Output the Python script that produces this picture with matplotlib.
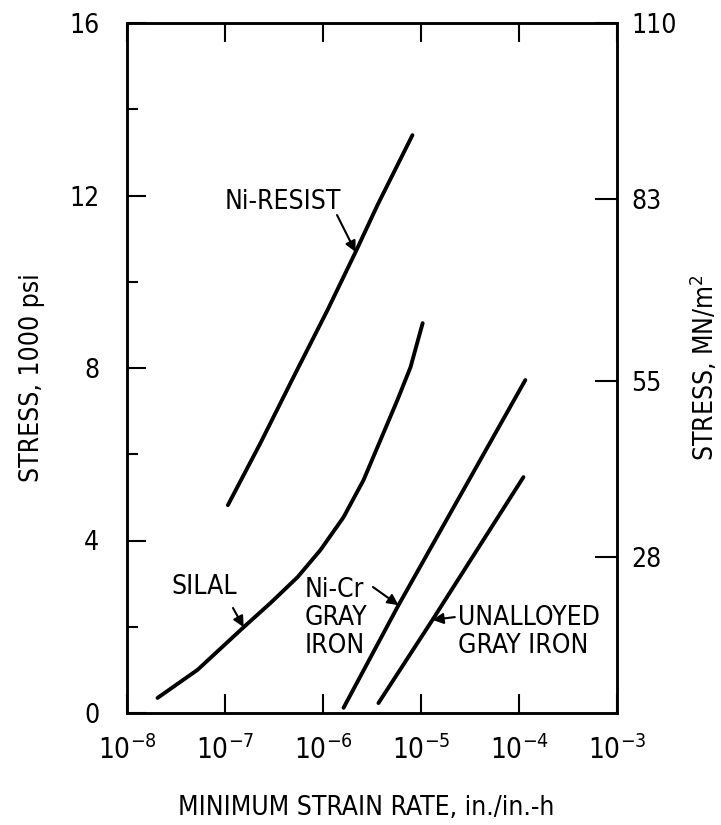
import numpy as np
import matplotlib.pyplot as plt
from matplotlib.ticker import FixedLocator, FuncFormatter, NullLocator

plt.rcParams['font.family'] = ['DejaVu Sans']
plt.rcParams['font.stretch'] = 'condensed'
plt.rcParams['font.size'] = 19

# minimum creep rate (in./in.-h) against stress (1000 psi) for each iron
ni_resist_rate = [1.07e-7, 2.30e-7, 5.00e-7, 1.11e-6, 2.15e-6, 3.60e-6, 8.18e-6]
ni_resist_stress = [4.82, 6.26, 7.79, 9.34, 10.69, 11.78, 13.40]

silal_rate = [2.05e-8, 5.24e-8, 1.55e-7, 2.91e-7, 5.50e-7, 9.42e-7, 1.62e-6,
              2.59e-6, 3.86e-6, 5.75e-6, 7.82e-6, 1.04e-5]
silal_stress = [0.35, 1.00, 1.99, 2.55, 3.15, 3.78, 4.54, 5.40, 6.33, 7.26,
                8.02, 9.04]

nicr_rate = [1.62e-6, 5.89e-6, 1.16e-4]
nicr_stress = [0.12, 2.50, 7.72]

unalloyed_rate = [3.68e-6, 1.31e-5, 1.11e-4]
unalloyed_stress = [0.23, 2.16, 5.47]

rate_ticks = [1e-8, 1e-7, 1e-6, 1e-5, 1e-4, 1e-3]
stress_ticks = [0, 4, 8, 12, 16]
stress_minor = [2, 6, 10, 14]
mn_ticks = [28, 55, 83, 110]

fig = plt.figure(figsize=(7.21, 8.25), dpi=100)
ax = fig.add_axes([127 / 721, 112 / 825, 490 / 721, 690 / 825])

for rate, stress in [(ni_resist_rate, ni_resist_stress),
                     (silal_rate, silal_stress),
                     (nicr_rate, nicr_stress),
                     (unalloyed_rate, unalloyed_stress)]:
    ax.plot(rate, stress, color='black', lw=2.8, solid_capstyle='round',
            solid_joinstyle='round')

ax.set_xscale('log')
ax.set_xlim(1e-8, 1e-3)
ax.set_ylim(0, 16)
ax.xaxis.set_major_locator(FixedLocator(rate_ticks))
ax.xaxis.set_minor_locator(NullLocator())
ax.xaxis.set_major_formatter(FuncFormatter(
    lambda v, p: r'$\mathregular{10^{%d}}$' % round(np.log10(v))))
ax.set_yticks(stress_ticks)
ax.yaxis.set_minor_locator(FixedLocator(stress_minor))

ax.tick_params(axis='x', which='major', direction='in', length=14, width=1.5,
               top=True, pad=16, labelsize=20)
ax.tick_params(axis='y', which='major', direction='in', length=14, width=1.5,
               right=False, pad=20)
ax.tick_params(axis='y', which='minor', direction='in', length=8, width=1.5,
               right=False)
for s in ax.spines.values():
    s.set_linewidth(1.8)

ax2 = ax.twinx()
ax2.set_ylim(4, 110)
ax2.set_yticks(mn_ticks)
ax2.tick_params(axis='y', direction='in', length=16, width=1.5, pad=10)
for s in ax2.spines.values():
    s.set_linewidth(1.8)

ax.set_xlabel('MINIMUM STRAIN RATE, in./in.-h')
ax.xaxis.set_label_coords(0.488, -0.1377)
ax.xaxis.label.set_va('center')
ax.set_ylabel('STRESS, 1000 psi')
ax.yaxis.set_label_coords(-0.194, 0.486)
ax.yaxis.label.set_va('center')
ax2.set_ylabel(r'STRESS, $\mathregular{MN/m^2}$', rotation=90)
ax2.yaxis.set_label_coords(1.178, 0.50)
ax2.yaxis.label.set_va('center')

# curve labels with leader arrows
arrow = dict(arrowstyle='-|>', color='black', lw=1.5, mutation_scale=16,
             shrinkA=0, shrinkB=0)
ax.text(0.200, 0.7406, 'Ni-RESIST', transform=ax.transAxes, va='center')
ax.annotate('', xy=(ni_resist_rate[4], ni_resist_stress[4]),
            xytext=(0.4286, 0.7217), textcoords='axes fraction', arrowprops=arrow)

ax.text(0.0912, 0.1819, 'SILAL', transform=ax.transAxes, va='center')
ax.annotate('', xy=(silal_rate[2], silal_stress[2]),
            xytext=(0.2163, 0.1522), textcoords='axes fraction', arrowprops=arrow)

ax.text(0.3633, 0.1377, 'Ni-Cr\nGRAY\nIRON', transform=ax.transAxes,
        va='center', linespacing=1.1)
ax.annotate('', xy=(nicr_rate[1], nicr_stress[1]),
            xytext=(0.502, 0.1826), textcoords='axes fraction', arrowprops=arrow)

ax.text(0.6755, 0.1174, 'UNALLOYED\nGRAY IRON', transform=ax.transAxes,
        va='center', linespacing=1.1)
ax.annotate('', xy=(unalloyed_rate[1], unalloyed_stress[1]),
            xytext=(0.669, 0.139), textcoords='axes fraction', arrowprops=arrow)

fig.savefig('out.png', dpi=100)
